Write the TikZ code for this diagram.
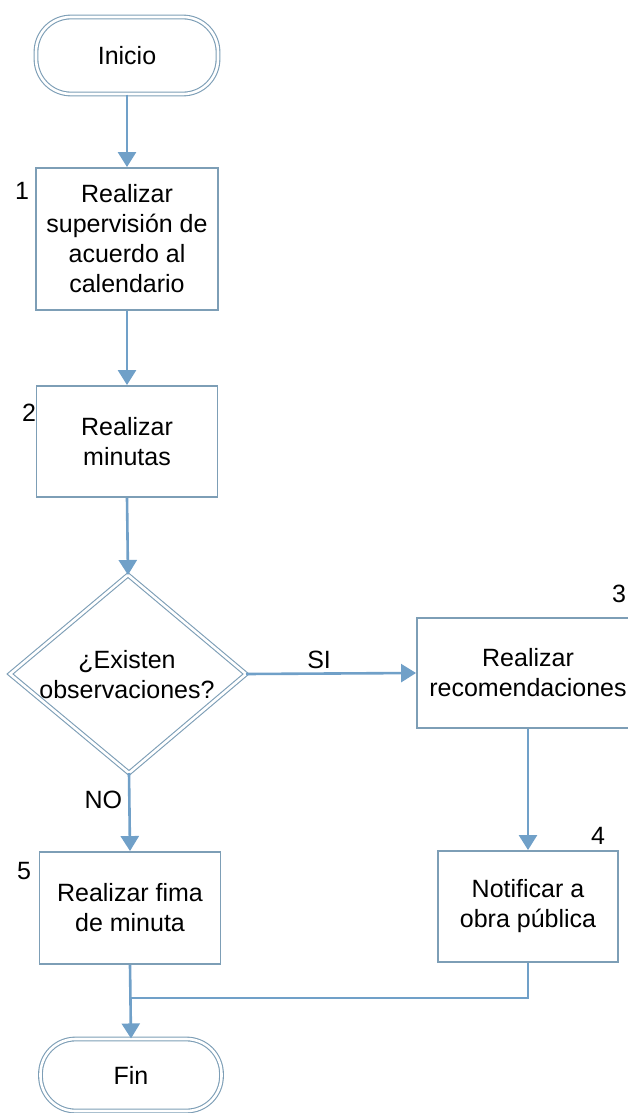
\documentclass[tikz,border=0pt]{standalone}
\usepackage{fontspec}
\setmainfont{Liberation Sans}
\usetikzlibrary{arrows.meta}
\definecolor{edgec}{RGB}{125,158,182}
\definecolor{connc}{RGB}{112,160,200}
\begin{document}
\begin{tikzpicture}[x=1pt,y=-1pt,
  every node/.style={font=\fontsize{25pt}{30pt}\selectfont, text=black},
  proc/.style={draw=edgec, line width=1.9pt, align=center, inner sep=0pt, fill=white},
  term/.style={draw=edgec, line width=1.1pt, double=white, double distance=2.6pt,
    rounded corners=35pt, align=center, inner sep=0pt},
  conn/.style={draw=connc, line width=2.6pt, -{Triangle[width=18pt,length=15pt]}},
  plain/.style={draw=connc, line width=2.2pt},
  num/.style={inner sep=0pt}
]
\useasboundingbox (0,0) rectangle (628,1113);

% nodes
\node[term, minimum width=182pt, minimum height=77pt] (ini) at (127,55.5) {Inicio};
\node[proc, minimum width=182pt, minimum height=142pt] (b1) at (127,239)
  {Realizar\\supervisión de\\acuerdo al\\calendario};
\node[proc, minimum width=181pt, minimum height=111pt] (b2) at (127,441.5)
  {Realizar\\minutas};

% decision
\coordinate (dt) at (128,575);
\coordinate (dr) at (246,674);
\coordinate (db) at (129,773);
\coordinate (dl) at (10,674);
\draw[draw=edgec, line width=1.1pt, double=white, double distance=2.6pt, line join=miter]
  (dt) -- (dr) -- (db) -- (dl) -- cycle;
\node[align=center, inner sep=0pt] (d) at (127,675) {¿Existen\\observaciones?};

\node[proc, minimum width=222pt, minimum height=110pt] (b3) at (528,673)
  {Realizar\\recomendaciones};
\node[proc, minimum width=180pt, minimum height=111pt] (b4) at (528,906.5)
  {Notificar a\\obra pública};
\node[proc, minimum width=181pt, minimum height=112pt] (b5) at (130,908)
  {Realizar fima\\de minuta};
\node[term, minimum width=181pt, minimum height=72pt] (fin) at (131,1075) {Fin};

% step numbers
\node[num] (n1) at (22,191) {1};
\node[num] (n2) at (29,413) {2};
\node[num] (n3) at (619,594) {3};
\node[num] (n4) at (598,836) {4};
\node[num] (n5) at (24,871) {5};

% connectors
\draw[conn] (ini.south) -- (b1.north);
\draw[conn] (b1.south) -- (b2.north);
\draw[conn] (b2.south) -- (dt);
\draw[conn] (dr) -- (b3.west) node[pos=0.43, above=4pt, inner sep=0pt] {SI};
\draw[conn] (b3.south) -- (b4.north);
\draw[conn] (db) -- (b5.north) node[pos=0.35, left=6pt, inner sep=0pt] {NO};
\coordinate (m) at (130,998);
\draw[plain] (b4.south) |- (m);
\draw[conn] (b5.south) -- (fin.north);
\end{tikzpicture}
\end{document}
